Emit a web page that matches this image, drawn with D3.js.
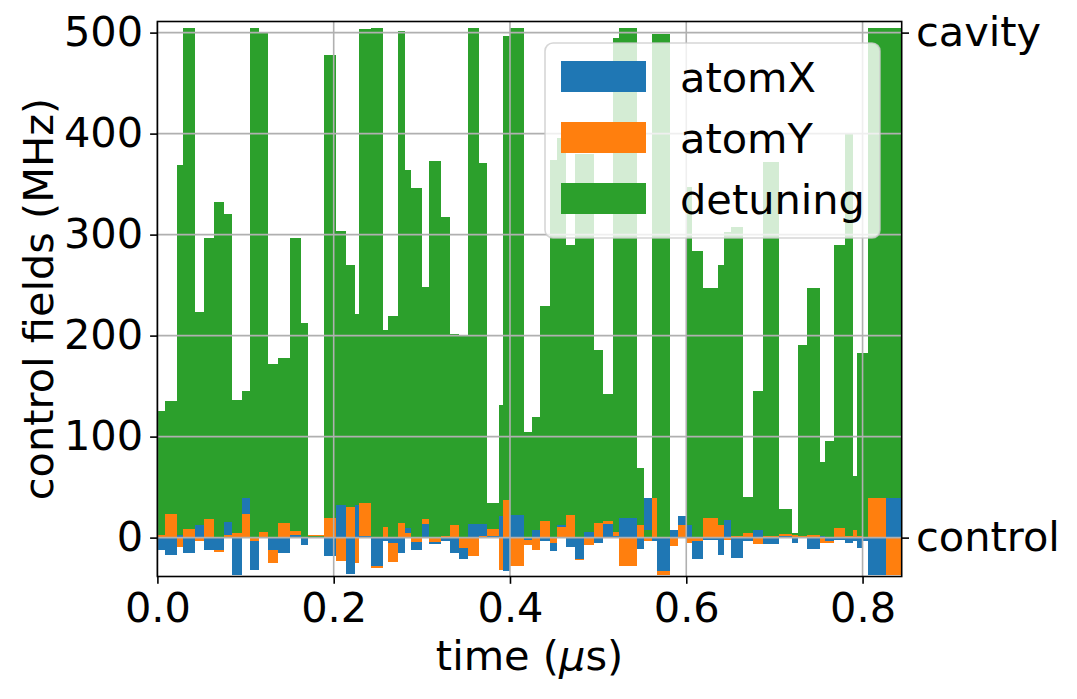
<!DOCTYPE html>
<html>
<head>
<meta charset="utf-8">
<script src="https://cdn.jsdelivr.net/npm/d3@7"></script>
<style>
  body { margin: 0; background: #fff; }
  text { font-family: "DejaVu Sans", sans-serif; fill: #000; }
</style>
</head>
<body>
<svg id="chart" width="1077" height="699"></svg>
<script>
// segment edges of the control sequence (µs)
let edges = [0, 0.0086, 0.0217, 0.0290, 0.0421, 0.0529, 0.0642, 0.0756, 0.0846, 0.0956,
  0.1050, 0.1158, 0.1258, 0.1372, 0.1504, 0.1629, 0.1712, 0.1890, 0.2026, 0.2140,
  0.2242, 0.2290, 0.2420, 0.2554, 0.2619, 0.2729, 0.2809, 0.2877, 0.2998, 0.3085,
  0.3214, 0.3319, 0.3421, 0.3524, 0.3648, 0.3739, 0.3875, 0.3917, 0.4000, 0.4159,
  0.4246, 0.4346, 0.4454, 0.4533, 0.4635, 0.4737, 0.4839, 0.4953, 0.5058, 0.5172,
  0.5240, 0.5437, 0.5520, 0.5608, 0.5671, 0.5815, 0.5909, 0.5997, 0.6068, 0.6186,
  0.6363, 0.6428, 0.6507, 0.6643, 0.6762, 0.6870, 0.7052, 0.7205, 0.7262, 0.7369,
  0.7517, 0.7579, 0.7675, 0.7800, 0.7886, 0.7936, 0.8004, 0.8061, 0.8265, 0.8444];

// MHz, one value per segment
let atomX = [-12, -17, 3, -15, 12, -12, -12, 15, -37, 39,
  -32, 0, -12, -15, 3, -7, 1, -18, 32, -36,
  32, 2, -28, -3, -5, -15, 10, -12, 13.5, -6,
  -3, -15, -21, 13.5, 13.5, 2, 21, -33, 22, -2,
  8, -3, -13, 12, -9, -21, 6, -5, 13.5, 2,
  19, -11, 39, -3, -33, 7.6, 21, 12, -21, -2.6,
  -17.6, 17, -20, -3, 7.6, -6, 2, -5, 1, -11.5,
  2, -3, -2.6, -5, -3, -10.5, -3, -37, 39];
let atomY = [3, 23, -9, 9, -3, 18, -14, 3, 5, 23,
  -3, 6, -25, 14, 7, 1, 3, 19, -23, 30,
  -25, 34, -30, 10.5, -24, 14, 5, -4, 18, -4,
  2, 12, -10, -18, 2, 9, -32, 37, -28, -7,
  -12, 16, -5, 10.5, 22, -22, -7, 14, 16, 6,
  -28, 12.5, -3, 39, -37, -8, 12, -5.6, -3, 19,
  12, -2.6, 1.6, 5, -6, 2, 3.6, 3, 1.6, 3,
  -5, -5.6, 10, 2, 8, 2, 1, 39, -37];
let detuning = [125, 135, 369, 505, 223, 297, 332, 320, 136, 145,
  505, 500, 172, 178, 297, 212, 2, 478, 304, 270,
  221, 504, 505, 206, 219, 502, 364, 346, 248, 373,
  317, 202, 201, 505, 371, 34, 131, 497, 505, 105,
  119, 229, 374, 396, 290, 380, 380, 186, 142, 495,
  505, 69, 8, 499, 499, 1, 1, 347, 284, 247,
  270, 303, 308, 40, 145, 372, 28, 5, 191, 247,
  75, 96, 290, 400, 61, 183, 183, 505, 505];

let seriesNames = ["atomX", "atomY", "detuning"];
let seriesColors = ["#1f77b4", "#ff7f0e", "#2ca02c"];
let xTicks = [0, 0.2, 0.4, 0.6, 0.8];
let yTicks = [0, 100, 200, 300, 400, 500];
let rightTicks = [0, 500];
let rightLabels = ["control", "cavity"];

let fontSize = 41.5;
let plotL = 157.4, plotR = 901.7, plotT = 21.5, plotB = 576.5;

let svg = d3.select("#chart");

let x = d3.scaleLinear().domain([0, 0.8444]).range([plotL, plotR]);
let y = d3.scaleLinear().domain([-38.5, 511]).range([plotB, plotT]);

svg.append("defs").append("clipPath").attr("id", "plotclip")
  .append("rect")
  .attr("x", plotL).attr("y", plotT)
  .attr("width", plotR - plotL).attr("height", plotB - plotT);

// build bars: inside each segment the larger magnitude goes first so smaller ones stay visible
let bars = [];
for (let i = 0; i < edges.length - 1; i++) {
  let segs = [atomX[i], atomY[i], detuning[i]].map((v, k) => ({ i: i, v: v, k: k }));
  segs.sort((a, b) => Math.abs(b.v) - Math.abs(a.v));
  bars = bars.concat(segs);
}

let barGroup = svg.append("g").attr("clip-path", "url(#plotclip)")
  .attr("shape-rendering", "crispEdges");
barGroup.selectAll("rect")
  .data(bars)
  .enter().append("rect")
  .attr("x", d => x(edges[d.i]))
  .attr("width", d => x(edges[d.i + 1]) - x(edges[d.i]))
  .attr("y", d => y(Math.max(0, d.v)))
  .attr("height", d => Math.abs(y(d.v) - y(0)))
  .attr("fill", d => seriesColors[d.k]);

// grid sits over the bars like in the original
let grid = svg.append("g").attr("stroke", "#b0b0b0").attr("stroke-width", 1.6);
grid.selectAll(".gx").data(xTicks).enter().append("line")
  .attr("x1", d => x(d)).attr("x2", d => x(d))
  .attr("y1", plotT).attr("y2", plotB);
grid.selectAll(".gy").data(yTicks).enter().append("line")
  .attr("x1", plotL).attr("x2", plotR)
  .attr("y1", d => y(d)).attr("y2", d => y(d));

// axes
let xAxis = d3.axisBottom(x).tickValues(xTicks).tickFormat(d3.format(".1f"))
  .tickSizeInner(7.3).tickSizeOuter(0).tickPadding(7);
let yAxis = d3.axisLeft(y).tickValues(yTicks).tickFormat(d3.format("d"))
  .tickSizeInner(7.3).tickSizeOuter(0).tickPadding(7);
let rAxis = d3.axisRight(y).tickValues(rightTicks).tickFormat((d, i) => rightLabels[i])
  .tickSizeInner(7.3).tickSizeOuter(0).tickPadding(7);

function styleAxis(g) {
  g.select(".domain").remove();
  g.selectAll(".tick line").attr("stroke", "#000").attr("stroke-width", 1.6);
  g.selectAll(".tick text").attr("font-size", fontSize).attr("fill", "#000")
    .style("font-family", "'DejaVu Sans'");
}

svg.append("g").attr("transform", "translate(0," + plotB + ")").call(xAxis).call(styleAxis)
  .selectAll(".tick text").attr("dy", "0.76em");
svg.append("g").attr("transform", "translate(" + plotL + ",0)").call(yAxis).call(styleAxis);
svg.append("g").attr("transform", "translate(" + plotR + ",0)").call(rAxis).call(styleAxis);

// frame
svg.append("rect")
  .attr("x", plotL).attr("y", plotT)
  .attr("width", plotR - plotL).attr("height", plotB - plotT)
  .attr("fill", "none").attr("stroke", "#000").attr("stroke-width", 1.6);

// axis labels
let xl = svg.append("text")
  .attr("x", (plotL + plotR) / 2).attr("y", 670)
  .attr("text-anchor", "middle").attr("font-size", fontSize);
xl.append("tspan").text("time (");
xl.append("tspan").attr("font-style", "italic").text("μ");
xl.append("tspan").text("s)");

svg.append("text")
  .attr("transform", "translate(53," + ((plotT + plotB) / 2) + ") rotate(-90)")
  .attr("text-anchor", "middle").attr("font-size", fontSize)
  .text("control fields (MHz)");

// legend
let legend = svg.append("g");
legend.append("rect")
  .attr("x", 545).attr("y", 43).attr("width", 335).attr("height", 195)
  .attr("rx", 8).attr("ry", 8)
  .attr("fill", "#fff").attr("fill-opacity", 0.8)
  .attr("stroke", "#cccccc").attr("stroke-opacity", 0.8).attr("stroke-width", 1.6);

let item = legend.selectAll(".item")
  .data(seriesNames)
  .enter().append("g")
  .attr("transform", (d, i) => "translate(0," + (i * 61) + ")");
item.append("rect")
  .attr("x", 561).attr("y", 61).attr("width", 85).attr("height", 31)
  .attr("fill", (d, i) => seriesColors[i]);
item.append("text")
  .attr("x", 680).attr("y", 91.7)
  .attr("font-size", fontSize)
  .text(d => d);
</script>
</body>
</html>
